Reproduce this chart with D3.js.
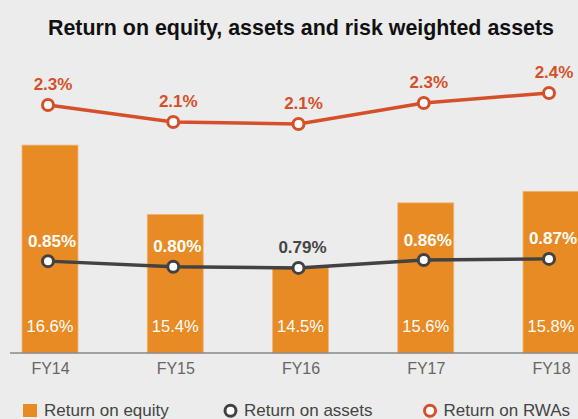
<!DOCTYPE html>
<html><head><meta charset="utf-8">
<script src="https://cdn.jsdelivr.net/npm/d3@7"></script>
<style>
html,body{margin:0;padding:0;background:#ececec;}
svg{display:block;font-family:"Liberation Sans",Arial,Helvetica,sans-serif;}
</style></head>
<body>
<svg id="chart" width="578" height="419"></svg>
<script>
const categories = ["FY14", "FY15", "FY16", "FY17", "FY18"];
const roeValues = [16.6, 15.4, 14.5, 15.6, 15.8];
const roaValues = [0.85, 0.80, 0.79, 0.86, 0.87];
const rwaValues = [2.28, 2.11, 2.09, 2.30, 2.40];
const seriesNames = ["Return on equity", "Return on assets", "Return on RWAs"];
const title = "Return on equity, assets and risk weighted assets";

const W = 578, H = 419;
const colBar = "#e98b25", colRwa = "#d5502a", colRoa = "#424242";
const svg = d3.select("#chart");
svg.append("rect").attr("width", W).attr("height", H).attr("fill", "#ececec");

const x = d3.scalePoint().domain(categories).range([48, 549]);
const yRoe = d3.scaleLinear().domain([13, 17]).range([353, 122]);
const yRoa = d3.scaleLinear().domain([0.7, 0.9]).range([278, 255.5]);
const yRwa = d3.scaleLinear().domain([2.0, 2.5]).range([133, 83]);
const barW = 56, barOff = 2;

svg.append("text").attr("x", 301).attr("y", 35).attr("text-anchor", "middle")
  .attr("font-weight", "bold").attr("font-size", 21.4).attr("fill", "#111").text(title);

// bars
svg.selectAll("rect.bar").data(categories).join("rect").attr("class", "bar")
  .attr("x", (d) => x(d) + barOff - barW / 2)
  .attr("y", (d, i) => yRoe(roeValues[i]))
  .attr("width", barW)
  .attr("height", (d, i) => yRoe(13) - yRoe(roeValues[i]))
  .attr("fill", colBar).attr("stroke", "#f0b57a").attr("stroke-width", 0.8);

// ROE labels
svg.selectAll("text.roe").data(categories).join("text").attr("class", "roe")
  .attr("x", (d) => x(d) + barOff).attr("y", 332).attr("text-anchor", "middle")
  .attr("font-size", 16.5).attr("fill", "#fff")
  .text((d, i) => d3.format(".1f")(roeValues[i]) + "%");

// axis
const axis = d3.axisBottom(x).tickSize(0).tickPadding(9);
const ax = svg.append("g").attr("transform", "translate(0,353)").call(axis);
ax.select(".domain").remove();
ax.selectAll("text").attr("font-size", 16).attr("fill", "#666")
  .attr("font-family", "Liberation Sans, Arial, sans-serif")
  .attr("dx", barOff).attr("dy", "0.72em");
svg.append("line").attr("x1", 10).attr("x2", 578).attr("y1", 353).attr("y2", 353)
  .attr("stroke", "#888").attr("stroke-width", 1.5);

// lines
function drawLine(vals, yS, col) {
  const line = d3.line().x((d, i) => x(categories[i])).y((d) => yS(d));
  svg.append("path").datum(vals).attr("d", line).attr("fill", "none")
    .attr("stroke", col).attr("stroke-width", 3.5);
  svg.selectAll(null).data(vals).join("circle")
    .attr("cx", (d, i) => x(categories[i])).attr("cy", (d) => yS(d))
    .attr("r", 5.5).attr("fill", "#fff").attr("stroke", col).attr("stroke-width", 3);
}
drawLine(roaValues, yRoa, colRoa);
drawLine(rwaValues, yRwa, colRwa);

// ROA labels
svg.selectAll("text.roa").data(roaValues).join("text").attr("class", "roa")
  .attr("x", (d, i) => x(categories[i]) + 4).attr("y", (d) => yRoa(d) - 14.5)
  .attr("text-anchor", "middle").attr("font-weight", "bold").attr("font-size", 17)
  .attr("fill", (d, i) => (yRoa(d) - 14.5 - 13 > yRoe(roeValues[i]) ? "#fff" : "#444"))
  .text((d) => d3.format(".2f")(d) + "%");

// RWA labels
svg.selectAll("text.rwa").data(rwaValues).join("text").attr("class", "rwa")
  .attr("x", (d, i) => x(categories[i]) + 5).attr("y", (d) => yRwa(d) - 15)
  .attr("text-anchor", "middle").attr("font-weight", "bold").attr("font-size", 17)
  .attr("fill", colRwa)
  .text((d) => d3.format(".1f")(d) + "%");

// legend
const lg = svg.append("g");
lg.append("rect").attr("x", 23).attr("y", 404).attr("width", 14).attr("height", 13).attr("fill", colBar);
lg.append("text").attr("x", 44).attr("y", 415.5).attr("font-size", 17).attr("fill", "#444").text(seriesNames[0]);
lg.append("circle").attr("cx", 230.5).attr("cy", 410.7).attr("r", 5.5).attr("fill", "#fff").attr("stroke", colRoa).attr("stroke-width", 3);
lg.append("text").attr("x", 244).attr("y", 415.5).attr("font-size", 17).attr("fill", "#444").text(seriesNames[1]);
lg.append("circle").attr("cx", 430).attr("cy", 410.7).attr("r", 5.5).attr("fill", "#fff").attr("stroke", colRwa).attr("stroke-width", 3);
lg.append("text").attr("x", 443.5).attr("y", 415.5).attr("font-size", 17).attr("fill", "#444").text(seriesNames[2]);
</script>
</body></html>
